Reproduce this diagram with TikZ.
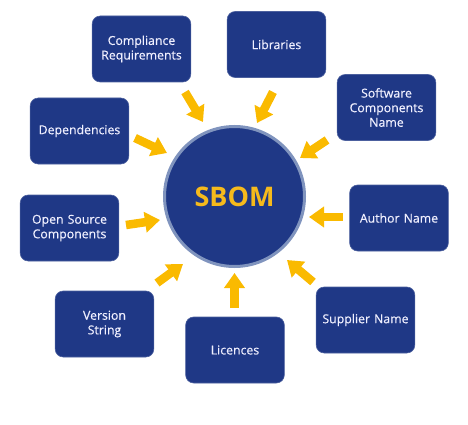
\documentclass[tikz,border=0pt]{standalone}
\usepackage{fontspec}
\setmainfont{Open Sans}
\newfontfamily\boxfont[FakeBold=0.4]{Open Sans}
\usepackage{tikz}
\usetikzlibrary{arrows.meta,calc,shapes}
\definecolor{sbomblue}{RGB}{31,56,134}
\definecolor{rimblue}{RGB}{128,148,190}
\definecolor{sbomgold}{RGB}{246,186,28}
\definecolor{arrowgold}{RGB}{250,186,0}

\tikzset{
  itembox/.style={rounded corners=8pt, fill=sbomblue, draw=sbomblue!80!white, line width=0.6pt,
    minimum width=97pt, minimum height=66pt, text width=92pt, align=center,
    text=white!94!blue, font=\boxfont\fontsize{12.3}{14.6}\selectfont},
  feed/.style={draw=arrowgold, line width=8.5pt, -{Triangle[length=15pt,width=20pt]}}
}

\begin{document}
\begin{tikzpicture}[x=1pt,y=-1pt]
  \useasboundingbox (0,0) rectangle (468,425);
  \node[circle, fill=sbomblue, draw=rimblue, line width=3pt, minimum size=140pt,
        text=sbomgold, font=\bfseries\fontsize{27}{30}\selectfont] (sbom) at (234.5,196.5) {SBOM};

  \node[itembox] (compliance) at (141.5,49)  {Compliance\\Requirements};
  \node[itembox] (libraries)  at (276.5,44.5) {Libraries};
  \node[itembox] (software)   at (386.5,107.5) {Software\\Components\\Name};
  \node[itembox] (deps)       at (79.5,131)  {Dependencies};
  \node[itembox] (opensource) at (69.5,228)  {Open Source\\Components};
  \node[itembox] (author)     at (399,218)   {Author Name};
  \node[itembox] (version)    at (104.5,324) {Version\\String};
  \node[itembox] (licences)   at (235,350)   {Licences};
  \node[itembox] (supplier)   at (365.5,320) {Supplier Name};

  % arrows pointing into the SBOM circle
  \foreach \tx/\ty/\px/\py in {-49.5/-104.5/-31.5/-74.5, 38.5/-104.5/22.5/-73.5,
      92.5/-56.5/65.5/-38.5, 108.5/20.5/74.5/20.5, 78.5/85.5/52.5/63.5,
      0/111.5/0/76.5, -77.5/86.5/-51.5/67.5, -108.5/28.5/-74.5/23.5,
      -99.5/-58.5/-67.5/-43.5}
    \draw[feed] ($(sbom.center)+(\tx,\ty)$) -- ($(sbom.center)+(\px,\py)$);
\end{tikzpicture}
\end{document}
